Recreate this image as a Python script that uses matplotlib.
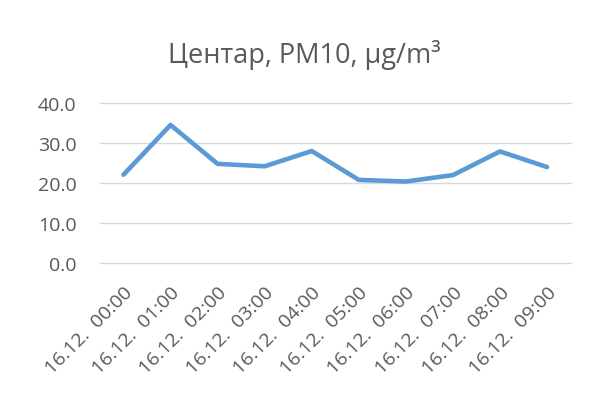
import matplotlib

matplotlib.use("Agg")
import matplotlib.pyplot as plt

# hourly PM10 readings, station "Центар"
hours = ["00:00", "01:00", "02:00", "03:00", "04:00",
         "05:00", "06:00", "07:00", "08:00", "09:00"]
day = "16.12."
pm10 = [22.1, 34.5, 24.8, 24.2, 28.0, 20.8, 20.4, 22.0, 27.9, 24.0]
y_ticks = [0, 10, 20, 30, 40]

labels = [f"{day}  {h}" for h in hours]
GREY = "#595959"

plt.rcParams["font.family"] = ["Open Sans", "DejaVu Sans"]

fig = plt.figure(figsize=(5.95, 4.02), dpi=100)
ax = fig.add_axes([0.168, 0.3425, 0.791, 0.399])

x = list(range(len(pm10)))
ax.plot(x, pm10, color="#5B9BD5", lw=3.3, solid_capstyle="round",
        solid_joinstyle="round", zorder=3)

ax.set_xlim(-0.5, len(pm10) - 0.5)
ax.set_ylim(0, 40)
ax.set_yticks(y_ticks)
ax.set_yticklabels([f"{v:.1f}" for v in y_ticks], color=GREY, fontsize=14)
ax.set_xticks(x)
ax.set_xticklabels(labels, rotation=45, ha="right", va="top",
                   rotation_mode="anchor", color=GREY, fontsize=14)
ax.tick_params(length=0, axis="y", pad=17)
ax.tick_params(length=0, axis="x", pad=14)

ax.grid(axis="y", color="#D9D9D9", lw=1.0)
for gl in ax.get_ygridlines():
    gl.set_clip_on(False)
ax.set_axisbelow(True)
for s in ax.spines.values():
    s.set_visible(False)

fig.text(0.511, 1 - 63 / 402, "Центар, PM10, µg/m³", ha="center", va="baseline",
         color=GREY, fontsize=19.5)

fig.savefig("out.png", dpi=100)
